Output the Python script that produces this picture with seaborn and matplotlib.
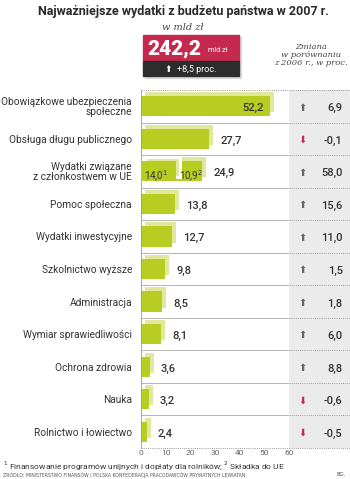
import matplotlib
matplotlib.use("Agg")
import matplotlib.pyplot as plt
import matplotlib.transforms as mtransforms
from matplotlib.patches import Rectangle
from matplotlib import font_manager
import seaborn as sns
import pandas as pd

# ---------------- data ----------------
categories = [
    "Obowiązkowe ubezpieczenia\nspołeczne",
    "Obsługa długu publicznego",
    "Wydatki związane\nz członkostwem w UE",
    "Pomoc społeczna",
    "Wydatki inwestycyjne",
    "Szkolnictwo wyższe",
    "Administracja",
    "Wymiar sprawiedliwości",
    "Ochrona zdrowia",
    "Nauka",
    "Rolnictwo i łowiectwo",
]
values = [52.2, 27.7, 24.9, 13.8, 12.7, 9.8, 8.5, 8.1, 3.6, 3.2, 2.4]
eu_parts = [14.0, 10.9]
eu_part_marks = ["1", "2"]
changes = [6.9, -0.1, 58.0, 15.6, 11.0, 1.5, 1.8, 6.0, 8.8, -0.6, -0.5]
total_value = 242.2
total_change = 8.5
xticks = [0, 10, 20, 30, 40, 50, 60]

title = "Najważniejsze wydatki z budżetu państwa w 2007 r."
unit_label = "w mld zł"
change_header = "Zmiana\nw porównaniu\nz 2006 r., w proc."
footnote = r"$^{\mathit{1}}$ Finansowanie programów unijnych i dopłaty dla rolników; $^{\mathit{2}}$ Składka do UE"
source = "ŹRÓDŁO: MINISTERSTWO FINANSÓW I POLSKA KONFEDERACJA PRACODAWCÓW PRYWATNYCH LEWIATAN"
author = "BG."

# ---------------- style ----------------
GREEN = "#b8cd22"
GREEN_LIGHT = "#dfe89c"
RED = "#c52a4e"
DARK = "#2d2d2d"
TXT = "#333333"
PANEL = "#ebebeb"

sns.set_theme(style="white")
installed = {f.name for f in font_manager.fontManager.ttflist}
narrow = "Liberation Sans Narrow" if "Liberation Sans Narrow" in installed else "Roboto"
plt.rcParams["font.family"] = ["DejaVu Sans"]

fig = plt.figure(figsize=(3.5, 4.79), dpi=100)
W, H = 350.0, 479.0

def fx(px):
    return px / W

def fy(py):
    return 1 - py / H

ax_left, ax_right, ax_top, ax_bot = 141, 289, 90, 448
ax = fig.add_axes([fx(ax_left), fy(ax_bot), (ax_right - ax_left) / W, (ax_bot - ax_top) / H])
ax2 = fig.add_axes([fx(ax_right), fy(ax_bot), (W - ax_right) / W, (ax_bot - ax_top) / H], sharey=ax)

df = pd.DataFrame({"category": categories, "value": values})
eu_idx = 2
df_seg1 = pd.DataFrame({"category": [categories[eu_idx]], "value": [eu_parts[0]]})

bar_h = 0.62
shift = mtransforms.ScaledTranslation(4 / 100, 4 / 100, fig.dpi_scale_trans)

# shadow (3D extrusion) of totals
n0 = len(ax.patches)
sns.barplot(data=df, x="value", y="category", order=categories, orient="h",
            color=GREEN_LIGHT, saturation=1, width=bar_h, ax=ax, linewidth=0)
for p in ax.patches[n0:]:
    p.set_transform(ax.transData + shift)
    p.set_zorder(1)
# faces of totals
n1 = len(ax.patches)
sns.barplot(data=df, x="value", y="category", order=categories, orient="h",
            color=GREEN, saturation=1, width=bar_h, ax=ax, linewidth=0)
for p in ax.patches[n1:]:
    p.set_zorder(2)
# first EU segment: shadow + face
n2 = len(ax.patches)
sns.barplot(data=df_seg1, x="value", y="category", order=categories, orient="h",
            color=GREEN_LIGHT, saturation=1, width=bar_h, ax=ax)
for p in ax.patches[n2:]:
    p.set_transform(ax.transData + shift)
    p.set_edgecolor("white")
    p.set_linewidth(2.2)
    p.set_zorder(3)
n3 = len(ax.patches)
sns.barplot(data=df_seg1, x="value", y="category", order=categories, orient="h",
            color=GREEN, saturation=1, width=bar_h, ax=ax, linewidth=0)
for p in ax.patches[n3:]:
    p.set_zorder(4)

ax.set_xlim(0, 60)
ax.set_ylim(len(categories) - 0.5, -0.5)
ax.set_xlabel("")
ax.set_ylabel("")
ax.set_xticks(xticks)
ax.set_xticklabels([str(t) for t in xticks], fontsize=6, color="#666666", family="Roboto")
ax.tick_params(axis="x", length=0, pad=1.5)
ax.tick_params(axis="y", length=0, pad=6.5)
for lab in ax.get_yticklabels():
    lab.set_fontsize(7.3)
    lab.set_color(TXT)
    lab.set_linespacing(0.95)
    lab.set_family("Roboto")
for s in ["top", "right", "bottom"]:
    ax.spines[s].set_visible(False)
ax.spines["left"].set_color("#9a9a9a")
ax.spines["left"].set_linewidth(0.6)

# value labels
def fmt(v):
    return f"{v:.1f}".replace(".", ",")

val_font = dict(fontsize=8, color=TXT, family="Roboto", fontweight="medium")
for i, v in enumerate(values):
    if i == 0:
        off = mtransforms.ScaledTranslation(-6 / 100, 0, fig.dpi_scale_trans)
        ax.text(v, i + 0.06, fmt(v), ha="right", va="center",
                transform=ax.transData + off, zorder=6, **val_font)
    else:
        off = mtransforms.ScaledTranslation(11 / 100, 0, fig.dpi_scale_trans)
        ax.text(v, i + 0.06, fmt(v), ha="left", va="center",
                transform=ax.transData + off, zorder=6, **val_font)

# EU segment labels
starts = [0.0, eu_parts[0]]
for s, v, mk in zip(starts, eu_parts, eu_part_marks):
    off = mtransforms.ScaledTranslation(3 / 100, 0, fig.dpi_scale_trans)
    ax.text(s, eu_idx + 0.16, fmt(v) + r"$^{\mathit{" + mk + "}}$", ha="left", va="center",
            transform=ax.transData + off, zorder=6, fontsize=7, color=TXT, family="Roboto")

# separators
for i in range(len(categories) - 1):
    ax.axhline(i + 0.5, color="#a8a8a8", lw=0.6, zorder=0.5)
    ax2.axhline(i + 0.5, color="#9a9a9a", lw=0.7, ls=(0, (1, 1.2)))
for a in (ax, ax2):
    a.axhline(-0.5, color="#9a9a9a", lw=0.7, ls=(0, (1, 1.2)), clip_on=False)
    a.axhline(len(categories) - 0.5, color="#9a9a9a", lw=0.7, ls=(0, (1, 1.2)), clip_on=False)

# change panel
ax2.set_facecolor(PANEL)
ax2.set_xlim(0, 1)
for s in ax2.spines.values():
    s.set_visible(False)
ax2.tick_params(left=False, bottom=False, labelleft=False, labelbottom=False)
for i, c in enumerate(changes):
    up = c >= 0
    ax2.text(0.22, i + 0.04, "⬆" if up else "⬇", ha="center", va="center",
             fontsize=7, color="#666666" if up else RED, family="DejaVu Sans")
    ax2.text(0.88, i + 0.06, fmt(c), ha="right", va="center", **val_font)

# ---------------- header ----------------
fig.text(0.525, fy(11), title, ha="center", va="center", fontsize=9,
         fontweight="bold", color="#2a2a2a", family=narrow)
fig.text(fx(183), fy(27), unit_label, ha="center", va="center", fontsize=7,
         style="italic", color="#444444", family="DejaVu Serif")

bx0, bx1, by0, by1, by2 = 143, 239, 35, 61, 76
fig.patches.append(Rectangle((fx(bx0 + 2), fy(by2 + 2)), (bx1 - bx0) / W, (by2 - by0) / H,
                             transform=fig.transFigure, color="#dddddd", zorder=0))
fig.patches.append(Rectangle((fx(bx0), fy(by1)), (bx1 - bx0) / W, (by1 - by0) / H,
                             transform=fig.transFigure, color=RED, zorder=1))
fig.patches.append(Rectangle((fx(bx0), fy(by2)), (bx1 - bx0) / W, (by2 - by1) / H,
                             transform=fig.transFigure, color=DARK, zorder=1))
fig.text(fx(147), fy(49), fmt(total_value), ha="left", va="center", fontsize=15,
         fontweight="black", color="white", family="Roboto", zorder=3)
fig.text(fx(208), fy(51), "mld zł", ha="left", va="center", fontsize=5.2,
         color="white", family="Roboto", zorder=3)
fig.text(fx(191), fy(69), "⬆  " + "+" + fmt(total_change) + " proc.", ha="center",
         va="center", fontsize=6.5, color="white", family=["Roboto", "DejaVu Sans"], zorder=3)

fig.text(fx(311), fy(55), change_header, ha="center", va="center", fontsize=6,
         style="italic", color="#444444", family="DejaVu Serif", linespacing=0.95)

# ---------------- footer ----------------
fig.text(fx(3), fy(466), footnote, ha="left", va="center", fontsize=6,
         color=TXT, family="Roboto")
fig.text(fx(3), fy(475), source, ha="left", va="center", fontsize=3.3,
         color="#555555", family="DejaVu Sans")
fig.text(fx(346), fy(475), author, ha="right", va="center", fontsize=4,
         color="#555555", family="DejaVu Sans")

fig.savefig("out.png", dpi=100)
